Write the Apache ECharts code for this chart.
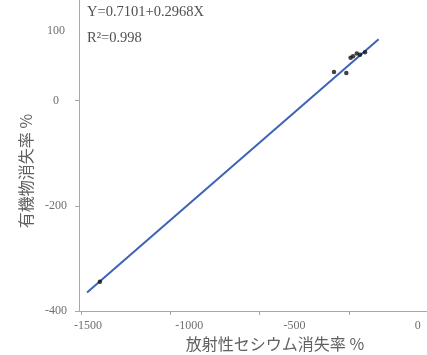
<!DOCTYPE html>
<html>
<head>
<meta charset="utf-8">
<script src="https://cdn.jsdelivr.net/npm/echarts@6/dist/echarts.min.js"></script>
<style>
  html, body { margin: 0; padding: 0; background: #fff; }
  #chart { width: 427px; height: 355px; }
</style>
</head>
<body>
<div id="chart"></div>
<script>
// Measured samples: radioactive cesium loss (%) vs organic matter loss (%)
const cesiumLoss  = [-83, -14, 10, 24, 45, 63, 91, -1394];
const organicLoss = [54.4, 52.5, 81.4, 84.2, 89.4, 87.1, 91.8, -344.5];

// Regression line end points
const fitLineX = [-1466, 167];
const fitLineY = [-365, 116.5];

// Tick values and labels
const xTicks = [-1500, -1000, -500, 0];
const yTicks = [-400, -200, 0];
const yLabelValues = [-400, -200, 0, 100];

const equationText = 'Y=0.7101+0.2968X';
const r2Text = 'R\u00B2=0.998';
const xTitle = '放射性セシウム消失率 %';
const yTitle = '有機物消失率 %';

const points = cesiumLoss.map((x, i) => [x, organicLoss[i]]);
const fitLine = fitLineX.map((x, i) => [x, fitLineY[i]]);

// per-label horizontal nudges for the x tick labels
const xLabelShift = { '-1500': 14, '-1000': 38, '-500': 70, '0': 138 };

const labelFont = { fontFamily: 'Liberation Serif', fontSize: 12, color: '#707070' };
const titleFont = { fontFamily: 'Noto Sans CJK JP', fontSize: 16, fill: '#606060' };
const noteFont = { fontFamily: 'Liberation Serif', fontSize: 14.5, fill: '#505050' };

const chart = echarts.init(document.getElementById('chart'), null, { renderer: 'canvas' });

chart.setOption({
  animation: false,
  backgroundColor: '#fff',
  grid: { left: 79, right: 0, top: 0, bottom: 44, containLabel: false, outerBoundsMode: 'none' },
  xAxis: {
    type: 'value',
    min: -1511,
    max: 438,
    splitLine: { show: false },
    axisLine: { show: true, onZero: false, lineStyle: { color: '#a8a8a8', width: 1 } },
    axisTick: { show: true, length: 4, lineStyle: { color: '#a8a8a8' }, customValues: xTicks },
    axisLabel: {
      customValues: xTicks,
      margin: 9,
      ...labelFont,
      formatter: v => '{s' + Math.abs(v) + '|' + v + '}',
      rich: Object.fromEntries(xTicks.map(v => ['s' + Math.abs(v), {
        ...labelFont, padding: [0, 0, 0, xLabelShift[String(v)]]
      }]))
    }
  },
  yAxis: {
    type: 'value',
    min: -400,
    max: 191,
    splitLine: { show: false },
    axisLine: { show: true, onZero: false, lineStyle: { color: '#a8a8a8', width: 1 } },
    axisTick: { show: true, length: 4, lineStyle: { color: '#a8a8a8' }, customValues: yTicks },
    axisLabel: {
      customValues: yLabelValues,
      margin: 23,
      align: 'center',
      ...labelFont,
      formatter: v => (v === 100 ? '{up|' + v + '}' : '{n|' + v + '}'),
      rich: {
        n: { ...labelFont },
        up: { ...labelFont, padding: [0, 0, 34, 0] }
      }
    }
  },
  series: [
    {
      type: 'line',
      data: fitLine,
      showSymbol: false,
      lineStyle: { color: '#3d62b8', width: 2 },
      z: 2
    },
    {
      type: 'scatter',
      data: points,
      symbol: 'circle',
      symbolSize: 4.5,
      itemStyle: { color: '#111' },
      z: 3
    }
  ],
  graphic: [
    {
      type: 'text', left: 87, top: 5,
      style: { text: equationText, ...noteFont }
    },
    {
      type: 'text', left: 87, top: 31,
      style: { text: r2Text, ...noteFont }
    },
    {
      type: 'text', x: 275, y: 344,
      style: { text: xTitle, ...titleFont, align: 'center', verticalAlign: 'middle' }
    },
    {
      type: 'text', x: 26, y: 171, rotation: Math.PI / 2,
      style: { text: yTitle, ...titleFont, align: 'center', verticalAlign: 'middle' }
    }
  ]
});
</script>
</body>
</html>
